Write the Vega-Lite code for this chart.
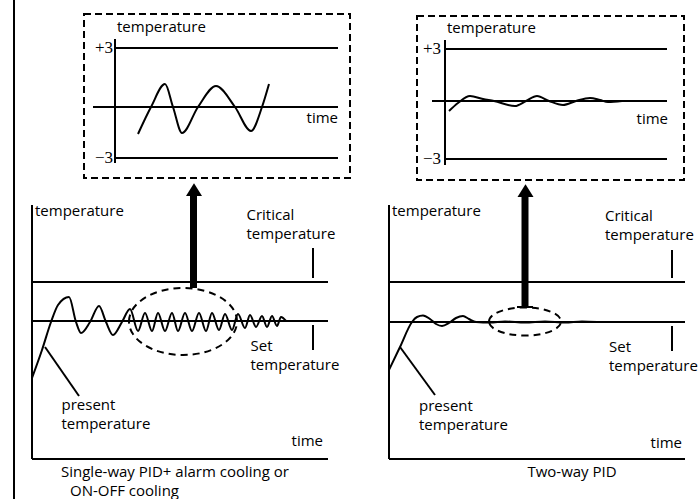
{
  "$schema": "https://vega.github.io/schema/vega-lite/v6.json",
  "width": 700,
  "height": 499,
  "autosize": "none",
  "padding": 0,
  "background": "white",
  "config": {"view": {"stroke": null}},
  "datasets": {
    "frames": [
      {"x": 84, "x2": 350, "y": 14, "y2": 178},
      {"x": 417, "x2": 684, "y": 16, "y2": 180}
    ],
    "lines": [
      {"part": "border", "x": 14, "y": 0, "x2": 14, "y2": 499},
      {"part": "TL axis", "x": 115, "y": 39, "x2": 115, "y2": 163},
      {"part": "TL +3", "x": 115, "y": 48, "x2": 338, "y2": 48},
      {"part": "TL 0", "x": 93, "y": 107, "x2": 338, "y2": 107},
      {"part": "TL -3", "x": 115, "y": 158, "x2": 338, "y2": 158},
      {"part": "TR axis", "x": 445, "y": 40, "x2": 445, "y2": 165},
      {"part": "TR +3", "x": 445, "y": 49, "x2": 667, "y2": 49},
      {"part": "TR 0", "x": 432, "y": 101, "x2": 667, "y2": 101},
      {"part": "TR -3", "x": 445, "y": 159, "x2": 667, "y2": 159},
      {"part": "BL yaxis", "x": 32, "y": 205, "x2": 32, "y2": 459},
      {"part": "BL xaxis", "x": 32, "y": 459, "x2": 328, "y2": 459},
      {"part": "BL critical", "x": 32, "y": 282, "x2": 328, "y2": 282},
      {"part": "BL set", "x": 32, "y": 321, "x2": 328, "y2": 321},
      {"part": "BL tick1", "x": 313, "y": 248, "x2": 313, "y2": 278},
      {"part": "BL tick2", "x": 313, "y": 325, "x2": 313, "y2": 350},
      {"part": "BL pointer", "x": 45, "y": 347, "x2": 79, "y2": 396},
      {"part": "BR yaxis", "x": 389, "y": 205, "x2": 389, "y2": 459},
      {"part": "BR xaxis", "x": 389, "y": 459, "x2": 685, "y2": 459},
      {"part": "BR critical", "x": 389, "y": 282, "x2": 685, "y2": 282},
      {"part": "BR set", "x": 389, "y": 322, "x2": 685, "y2": 322},
      {"part": "BR tick1", "x": 672, "y": 250, "x2": 672, "y2": 278},
      {"part": "BR tick2", "x": 672, "y": 326, "x2": 672, "y2": 351},
      {"part": "BR pointer", "x": 400, "y": 347, "x2": 435, "y2": 395},
      {"part": "BR cap", "x": 517, "y": 307, "x2": 533, "y2": 307}
    ],
    "shafts": [
      {"x": 193.5, "y": 194, "x2": 193.5, "y2": 288},
      {"x": 525, "y": 195, "x2": 525, "y2": 307}
    ],
    "heads": [
      {"x": 194, "y": 190.5},
      {"x": 525.5, "y": 191.5}
    ],
    "ellipsesWide": [{"x": 183, "y": 321.5}],
    "ellipsesFlat": [{"x": 525, "y": 321.5}],
    "curves": [
      {"c": "BL", "x": 32, "y": 378}, {"c": "BL", "x": 42, "y": 350}, {"c": "BL", "x": 51, "y": 322},
      {"c": "BL", "x": 58, "y": 305}, {"c": "BL", "x": 69, "y": 297}, {"c": "BL", "x": 76, "y": 322},
      {"c": "BL", "x": 81, "y": 333}, {"c": "BL", "x": 90, "y": 322}, {"c": "BL", "x": 99, "y": 306},
      {"c": "BL", "x": 106, "y": 322}, {"c": "BL", "x": 113, "y": 335}, {"c": "BL", "x": 122, "y": 322},
      {"c": "BL", "x": 130, "y": 309}, {"c": "BL", "x": 138, "y": 331}, {"c": "BL", "x": 145, "y": 313},
      {"c": "BL", "x": 152, "y": 331}, {"c": "BL", "x": 158, "y": 313}, {"c": "BL", "x": 165, "y": 331},
      {"c": "BL", "x": 172, "y": 313}, {"c": "BL", "x": 178, "y": 331}, {"c": "BL", "x": 185, "y": 313},
      {"c": "BL", "x": 192, "y": 331}, {"c": "BL", "x": 199, "y": 313}, {"c": "BL", "x": 206, "y": 331},
      {"c": "BL", "x": 212, "y": 313}, {"c": "BL", "x": 219, "y": 330}, {"c": "BL", "x": 225, "y": 314},
      {"c": "BL", "x": 232, "y": 330}, {"c": "BL", "x": 238, "y": 314}, {"c": "BL", "x": 245, "y": 328},
      {"c": "BL", "x": 250, "y": 315}, {"c": "BL", "x": 256, "y": 327}, {"c": "BL", "x": 262, "y": 316},
      {"c": "BL", "x": 267, "y": 327}, {"c": "BL", "x": 272, "y": 316}, {"c": "BL", "x": 277, "y": 326},
      {"c": "BL", "x": 281, "y": 317}, {"c": "BL", "x": 286, "y": 321},
      {"c": "BR", "x": 389, "y": 370}, {"c": "BR", "x": 400, "y": 347}, {"c": "BR", "x": 412, "y": 322},
      {"c": "BR", "x": 417, "y": 317}, {"c": "BR", "x": 423, "y": 315.5}, {"c": "BR", "x": 430, "y": 319},
      {"c": "BR", "x": 436, "y": 324}, {"c": "BR", "x": 442, "y": 326}, {"c": "BR", "x": 449, "y": 323},
      {"c": "BR", "x": 456, "y": 318}, {"c": "BR", "x": 463, "y": 316}, {"c": "BR", "x": 469, "y": 319},
      {"c": "BR", "x": 476, "y": 322}, {"c": "BR", "x": 490, "y": 322.5}, {"c": "BR", "x": 505, "y": 321.5},
      {"c": "BR", "x": 525, "y": 322.5}, {"c": "BR", "x": 545, "y": 321.5}, {"c": "BR", "x": 565, "y": 322.5},
      {"c": "BR", "x": 582, "y": 321.5}, {"c": "BR", "x": 597, "y": 322},
      {"c": "TL", "x": 138, "y": 134}, {"c": "TL", "x": 151, "y": 107}, {"c": "TL", "x": 165, "y": 84},
      {"c": "TL", "x": 173, "y": 107}, {"c": "TL", "x": 182, "y": 133}, {"c": "TL", "x": 198, "y": 107},
      {"c": "TL", "x": 216, "y": 86}, {"c": "TL", "x": 235, "y": 107}, {"c": "TL", "x": 251, "y": 131},
      {"c": "TL", "x": 262, "y": 107}, {"c": "TL", "x": 269, "y": 84},
      {"c": "TR", "x": 449, "y": 111}, {"c": "TR", "x": 458, "y": 103}, {"c": "TR", "x": 470, "y": 96},
      {"c": "TR", "x": 483, "y": 99}, {"c": "TR", "x": 494, "y": 101}, {"c": "TR", "x": 515, "y": 106},
      {"c": "TR", "x": 526, "y": 101}, {"c": "TR", "x": 537, "y": 96}, {"c": "TR", "x": 549, "y": 101},
      {"c": "TR", "x": 563, "y": 105}, {"c": "TR", "x": 576, "y": 101}, {"c": "TR", "x": 590, "y": 98},
      {"c": "TR", "x": 600, "y": 100}, {"c": "TR", "x": 608, "y": 102}, {"c": "TR", "x": 622, "y": 101}
    ],
    "texts": [
      {"role": "label", "text": "temperature", "x": 117, "y": 32},
      {"role": "label", "text": "temperature", "x": 447, "y": 33},
      {"role": "time", "text": "time", "x": 338, "y": 123},
      {"role": "time", "text": "time", "x": 668, "y": 124},
      {"role": "num", "text": "+3", "x": 113, "y": 48},
      {"role": "num", "text": "−3", "x": 113, "y": 158},
      {"role": "num", "text": "+3", "x": 441, "y": 49},
      {"role": "num", "text": "−3", "x": 441, "y": 159},
      {"role": "label", "text": "temperature", "x": 35, "y": 216},
      {"role": "label", "text": "Critical\ntemperature", "x": 246.5, "y": 220},
      {"role": "label", "text": "Set\ntemperature", "x": 250.5, "y": 351},
      {"role": "label", "text": "present\ntemperature", "x": 61.5, "y": 410},
      {"role": "time", "text": "time", "x": 323, "y": 446},
      {"role": "label", "text": "Single-way PID+ alarm cooling or", "x": 61, "y": 477},
      {"role": "label", "text": "ON-OFF cooling", "x": 70, "y": 496},
      {"role": "label", "text": "temperature", "x": 392, "y": 216},
      {"role": "label", "text": "Critical\ntemperature", "x": 605, "y": 221},
      {"role": "label", "text": "Set\ntemperature", "x": 609, "y": 352},
      {"role": "label", "text": "present\ntemperature", "x": 419, "y": 411},
      {"role": "time", "text": "time", "x": 682, "y": 448},
      {"role": "center", "text": "Two-way PID", "x": 572, "y": 477}
    ]
  },
  "layer": [
    {
      "data": {"name": "frames"},
      "mark": {"type": "rect", "fill": "transparent", "stroke": "black", "strokeWidth": 2, "strokeDash": [7, 4]},
      "encoding": {
        "x": {"field": "x", "type": "quantitative", "scale": {"domain": [0, 700], "range": [0, 700]}, "axis": null},
        "x2": {"field": "x2"},
        "y": {"field": "y", "type": "quantitative", "scale": {"domain": [0, 499], "range": [0, 499]}, "axis": null},
        "y2": {"field": "y2"}
      }
    },
    {
      "data": {"name": "lines"},
      "mark": {"type": "rule", "color": "black", "strokeWidth": 2},
      "encoding": {
        "x": {"field": "x", "type": "quantitative", "scale": {"domain": [0, 700], "range": [0, 700]}, "axis": null},
        "x2": {"field": "x2"},
        "y": {"field": "y", "type": "quantitative", "scale": {"domain": [0, 499], "range": [0, 499]}, "axis": null},
        "y2": {"field": "y2"}
      }
    },
    {
      "data": {"name": "shafts"},
      "mark": {"type": "rule", "color": "black", "strokeWidth": 7},
      "encoding": {
        "x": {"field": "x", "type": "quantitative", "scale": {"domain": [0, 700], "range": [0, 700]}, "axis": null},
        "x2": {"field": "x2"},
        "y": {"field": "y", "type": "quantitative", "scale": {"domain": [0, 499], "range": [0, 499]}, "axis": null},
        "y2": {"field": "y2"}
      }
    },
    {
      "data": {"name": "heads"},
      "mark": {"type": "point", "filled": true, "color": "black", "opacity": 1, "size": 256, "strokeWidth": 0, "shape": "M0,-0.9L1,0.7L-1,0.7Z"},
      "encoding": {
        "x": {"field": "x", "type": "quantitative", "scale": {"domain": [0, 700], "range": [0, 700]}, "axis": null},
        "y": {"field": "y", "type": "quantitative", "scale": {"domain": [0, 499], "range": [0, 499]}, "axis": null}
      }
    },
    {
      "data": {"name": "ellipsesWide"},
      "mark": {"type": "point", "filled": false, "stroke": "black", "opacity": 1, "strokeWidth": 2, "strokeDash": [7, 5], "size": 11664,
        "shape": "M-1,0C-1,-0.342 -0.552,-0.62 0,-0.62C0.552,-0.62 1,-0.342 1,0C1,0.342 0.552,0.62 0,0.62C-0.552,0.62 -1,0.342 -1,0Z"},
      "encoding": {
        "x": {"field": "x", "type": "quantitative", "scale": {"domain": [0, 700], "range": [0, 700]}, "axis": null},
        "y": {"field": "y", "type": "quantitative", "scale": {"domain": [0, 499], "range": [0, 499]}, "axis": null}
      }
    },
    {
      "data": {"name": "ellipsesFlat"},
      "mark": {"type": "point", "filled": false, "stroke": "black", "opacity": 1, "strokeWidth": 2, "strokeDash": [7, 5], "size": 5184,
        "shape": "M-1,0C-1,-0.215 -0.552,-0.39 0,-0.39C0.552,-0.39 1,-0.215 1,0C1,0.215 0.552,0.39 0,0.39C-0.552,0.39 -1,0.215 -1,0Z"},
      "encoding": {
        "x": {"field": "x", "type": "quantitative", "scale": {"domain": [0, 700], "range": [0, 700]}, "axis": null},
        "y": {"field": "y", "type": "quantitative", "scale": {"domain": [0, 499], "range": [0, 499]}, "axis": null}
      }
    },
    {
      "data": {"name": "curves"},
      "mark": {"type": "line", "color": "black", "strokeWidth": 2, "interpolate": "monotone"},
      "encoding": {
        "x": {"field": "x", "type": "quantitative", "scale": {"domain": [0, 700], "range": [0, 700]}, "axis": null},
        "y": {"field": "y", "type": "quantitative", "scale": {"domain": [0, 499], "range": [0, 499]}, "axis": null},
        "detail": {"field": "c", "type": "nominal"},
        "order": {"field": "x", "type": "quantitative"}
      }
    },
    {
      "data": {"name": "texts"},
      "transform": [{"filter": "datum.role === 'label'"}],
      "mark": {"type": "text", "align": "left", "baseline": "alphabetic", "font": "Open Sans", "fontSize": 15, "color": "black", "lineBreak": "\n", "lineHeight": 18.5},
      "encoding": {
        "x": {"field": "x", "type": "quantitative", "scale": {"domain": [0, 700], "range": [0, 700]}, "axis": null},
        "y": {"field": "y", "type": "quantitative", "scale": {"domain": [0, 499], "range": [0, 499]}, "axis": null},
        "text": {"field": "text"}
      }
    },
    {
      "data": {"name": "texts"},
      "transform": [{"filter": "datum.role === 'time'"}],
      "mark": {"type": "text", "align": "right", "baseline": "alphabetic", "font": "Open Sans", "fontSize": 15, "color": "black"},
      "encoding": {
        "x": {"field": "x", "type": "quantitative", "scale": {"domain": [0, 700], "range": [0, 700]}, "axis": null},
        "y": {"field": "y", "type": "quantitative", "scale": {"domain": [0, 499], "range": [0, 499]}, "axis": null},
        "text": {"field": "text"}
      }
    },
    {
      "data": {"name": "texts"},
      "transform": [{"filter": "datum.role === 'center'"}],
      "mark": {"type": "text", "align": "center", "baseline": "alphabetic", "font": "Open Sans", "fontSize": 15, "color": "black"},
      "encoding": {
        "x": {"field": "x", "type": "quantitative", "scale": {"domain": [0, 700], "range": [0, 700]}, "axis": null},
        "y": {"field": "y", "type": "quantitative", "scale": {"domain": [0, 499], "range": [0, 499]}, "axis": null},
        "text": {"field": "text"}
      }
    },
    {
      "data": {"name": "texts"},
      "transform": [{"filter": "datum.role === 'num'"}],
      "mark": {"type": "text", "align": "right", "baseline": "middle", "font": "Liberation Serif", "fontSize": 17, "color": "black"},
      "encoding": {
        "x": {"field": "x", "type": "quantitative", "scale": {"domain": [0, 700], "range": [0, 700]}, "axis": null},
        "y": {"field": "y", "type": "quantitative", "scale": {"domain": [0, 499], "range": [0, 499]}, "axis": null},
        "text": {"field": "text"}
      }
    }
  ]
}
